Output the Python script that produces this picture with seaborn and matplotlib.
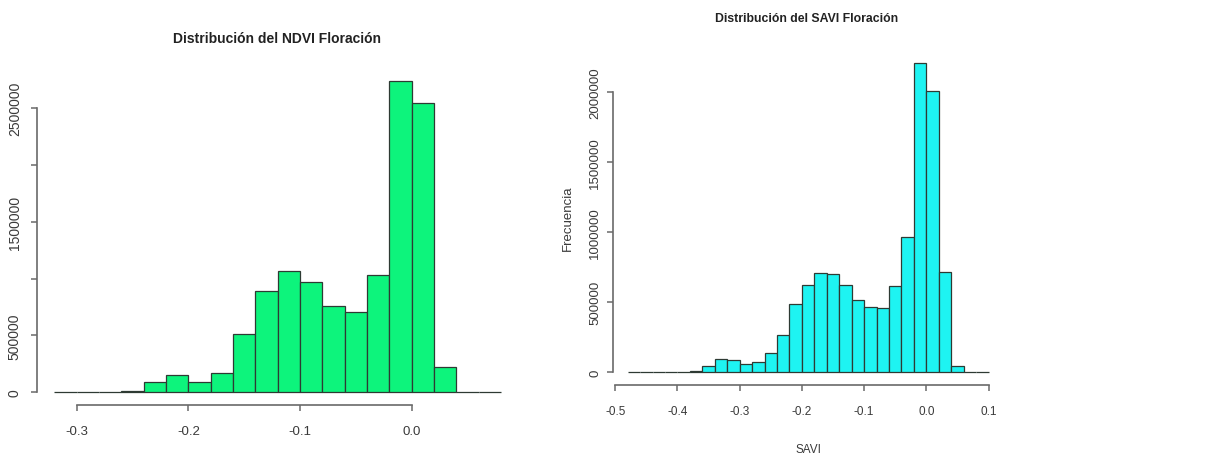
import matplotlib
matplotlib.use("Agg")
import matplotlib.pyplot as plt
import seaborn as sns

sns.set_style("white")

FONT = "Liberation Sans"
plt.rcParams["font.family"] = [FONT, "DejaVu Sans"]

# ---- NDVI data (bin width 0.02, breaks -0.32 .. 0.08) ----
ndvi_range = (-0.32, 0.08)
ndvi_mids = [-0.31, -0.29, -0.27, -0.25, -0.23, -0.21, -0.19, -0.17, -0.15, -0.13,
             -0.11, -0.09, -0.07, -0.05, -0.03, -0.01, 0.01, 0.03, 0.05, 0.07]
ndvi_counts = [0, 0, 0, 12000, 90000, 150000, 90000, 170000, 515000, 890000,
               1065000, 968000, 762000, 706000, 1035000, 2738000, 2547000, 226000, 0, 0]
ndvi_xticks = [-0.3, -0.2, -0.1, 0.0]
ndvi_yticks = [0, 500000, 1000000, 1500000, 2000000, 2500000]
ndvi_ytick_labels = ["0", "500000", "", "1500000", "", "2500000"]

# ---- SAVI data (bin width 0.02, breaks -0.48 .. 0.10) ----
savi_range = (-0.48, 0.10)
savi_mids = [-0.47, -0.45, -0.43, -0.41, -0.39, -0.37, -0.35, -0.33, -0.31, -0.29,
             -0.27, -0.25, -0.23, -0.21, -0.19, -0.17, -0.15, -0.13, -0.11, -0.09,
             -0.07, -0.05, -0.03, -0.01, 0.01, 0.03, 0.05, 0.07, 0.09]
savi_counts = [0, 0, 0, 0, 0, 12000, 45000, 92000, 87000, 58000,
               71000, 138000, 267000, 488000, 624000, 707000, 700000, 626000, 519000, 464000,
               462000, 614000, 964000, 2210000, 2007000, 719000, 43000, 0, 0]
savi_xticks = [-0.5, -0.4, -0.3, -0.2, -0.1, 0.0, 0.1]
savi_yticks = [0, 500000, 1000000, 1500000, 2000000]
savi_ytick_labels = ["0", "500000", "1000000", "1500000", "2000000"]

W, H = 1228, 456
fig = plt.figure(figsize=(W / 100, H / 100), dpi=100)
fig.patch.set_facecolor("white")

AXIS_COLOR = "#6a6a6a"
TEXT_COLOR = "#3a3a3a"
EDGE = "#2e3a33"


def px_axes(x0, y0, x1, y1):
    return fig.add_axes([x0 / W, 1 - y1 / H, (x1 - x0) / W, (y1 - y0) / H])


def r_style(ax, xticks, yticks, ytick_labels, xlim, ylim, xsize, ysize, xpad, ypad):
    ax.set_xlim(*xlim)
    ax.set_ylim(*ylim)
    for side in ("top", "right"):
        ax.spines[side].set_visible(False)
    for side in ("left", "bottom"):
        ax.spines[side].set_color(AXIS_COLOR)
        ax.spines[side].set_linewidth(1.2)
    ax.spines["bottom"].set_bounds(xticks[0], xticks[-1])
    ax.spines["left"].set_bounds(yticks[0], yticks[-1])
    ax.set_xticks(xticks)
    ax.set_xticklabels([f"{t:.1f}" for t in xticks], fontsize=xsize, color=TEXT_COLOR)
    ax.set_yticks(yticks)
    ax.set_yticklabels(ytick_labels, rotation=90, va="center",
                       fontsize=ysize, color=TEXT_COLOR)
    ax.tick_params(axis="x", direction="out", length=4.5, width=1.1,
                   color=AXIS_COLOR, pad=xpad, bottom=True)
    ax.tick_params(axis="y", direction="out", length=4.5, width=1.1,
                   color=AXIS_COLOR, pad=ypad, left=True)
    ax.grid(False)
    ax.set_facecolor("white")


# ---- NDVI panel ----
ax1 = px_axes(36.5, 69.5, 519, 405.7)
sns.histplot(x=ndvi_mids, weights=ndvi_counts, binwidth=0.02, binrange=ndvi_range,
             color="#0df47c", alpha=1, edgecolor=EDGE, linewidth=0.9, ax=ax1)
span = ndvi_range[1] - ndvi_range[0]
top = max(ndvi_counts)
r_style(ax1, ndvi_xticks, ndvi_yticks, ndvi_ytick_labels,
        (ndvi_range[0] - 0.04 * span, ndvi_range[1] + 0.04 * span),
        (-0.04 * top, 1.04 * top), 9.5, 10, 10, 6)
ax1.set_xlabel("")
ax1.set_ylabel("")
fig.text(277 / W, 1 - 39 / H, "Distribución del NDVI Floración", ha="center", va="center",
         fontweight="bold", fontsize=10, color="#222222")

# ---- SAVI panel ----
ax2 = px_axes(613.2, 51.7, 1003, 385.7)
sns.histplot(x=savi_mids, weights=savi_counts, binwidth=0.02, binrange=savi_range,
             color="#1ef4f2", alpha=1, edgecolor=EDGE, linewidth=0.9, ax=ax2)
span = savi_range[1] - savi_range[0]
top = max(savi_counts)
r_style(ax2, savi_xticks, savi_yticks, savi_ytick_labels,
        (savi_range[0] - 0.04 * span, savi_range[1] + 0.04 * span),
        (-0.04 * top, 1.04 * top), 8.5, 9.5, 10, 4)
ax2.set_xlabel("SAVI", fontsize=8.5, color=TEXT_COLOR)
ax2.set_ylabel("Frecuencia", fontsize=9.5, color=TEXT_COLOR)
ax2.xaxis.set_label_coords(0.5, -0.175)
ax2.yaxis.set_label_coords(-0.1006, 0.5)
fig.text(807 / W, 1 - 19 / H, "Distribución del SAVI Floración", ha="center", va="center",
         fontweight="bold", fontsize=8.8, color="#222222")

fig.savefig("out.png", dpi=100, facecolor="white")
